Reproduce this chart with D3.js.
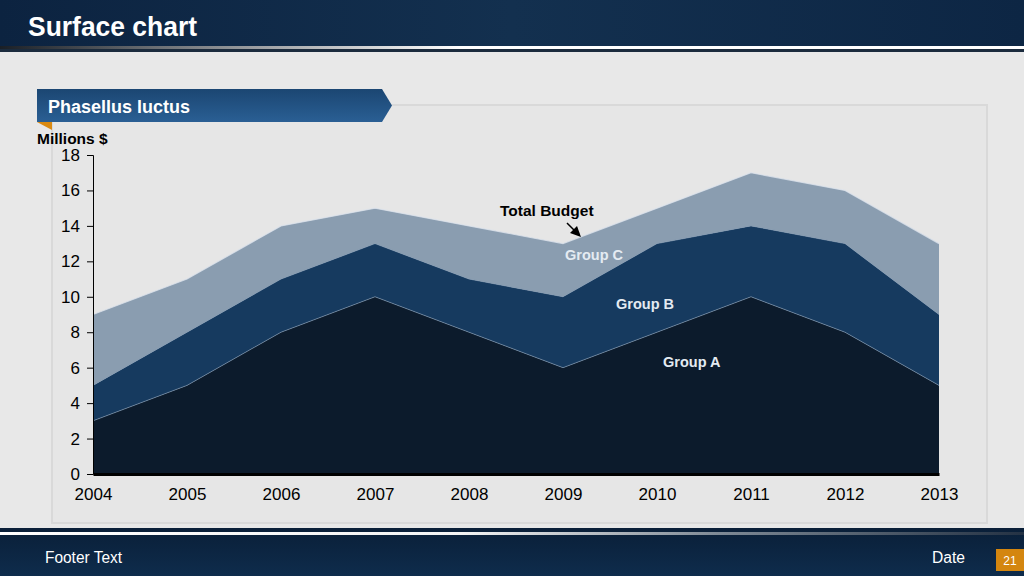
<!DOCTYPE html>
<html><head><meta charset="utf-8">
<script src="https://cdn.jsdelivr.net/npm/d3@7"></script>
<style>html,body{margin:0;padding:0;background:#e8e8e8;}svg{display:block;}</style>
</head><body>
<svg id="c" width="1024" height="576"></svg>
<script>
const years = [2004,2005,2006,2007,2008,2009,2010,2011,2012,2013];
const groupA = [3,5,8,10,8,6,8,10,8,5];
const groupB = [2,3,3,3,3,4,5,4,5,4];
const groupC = [4,3,3,2,3,3,2,3,3,4];
const seriesNames = ["Group A","Group B","Group C"];
const yTicks = [0,2,4,6,8,10,12,14,16,18];
const colors = ["#0c1b2c","#163a5f","#8a9db0"];

const svg = d3.select("#c");
const narrow = "'Liberation Sans Narrow','Arial Narrow','Liberation Sans',sans-serif";
const defs = svg.append("defs");

// header
const hg = defs.append("linearGradient").attr("id","hg").attr("x1",0).attr("x2",1);
hg.append("stop").attr("offset",0).attr("stop-color","#0c2340");
hg.append("stop").attr("offset",0.5).attr("stop-color","#13304f");
hg.append("stop").attr("offset",1).attr("stop-color","#0d2644");
svg.append("rect").attr("x",0).attr("y",0).attr("width",1024).attr("height",47).attr("fill","url(#hg)");
const lg = defs.append("linearGradient").attr("id","lg").attr("x1",0).attr("x2",1);
lg.append("stop").attr("offset",0).attr("stop-color","#1a1f26");
lg.append("stop").attr("offset",0.15).attr("stop-color","#6a6e73");
lg.append("stop").attr("offset",0.45).attr("stop-color","#ffffff");
lg.append("stop").attr("offset",1).attr("stop-color","#ffffff");
svg.append("rect").attr("x",0).attr("y",46).attr("width",1024).attr("height",3).attr("fill","url(#lg)");
svg.append("rect").attr("x",0).attr("y",49).attr("width",1024).attr("height",3).attr("fill","#1b2b3d");
svg.append("text").attr("x",28).attr("y",36).text("Surface chart")
  .attr("font-family",narrow).attr("font-weight","bold").attr("font-size",27).attr("fill","#fff")
  .attr("textLength",169).attr("lengthAdjust","spacingAndGlyphs");

// footer
const fg = defs.append("linearGradient").attr("id","fg").attr("x1",0).attr("x2",0).attr("y1",0).attr("y2",1);
fg.append("stop").attr("offset",0).attr("stop-color","#0a1f38");
fg.append("stop").attr("offset",1).attr("stop-color","#0e2c4c");
svg.append("rect").attr("x",0).attr("y",528).attr("width",1024).attr("height",48).attr("fill","url(#fg)");
const flg = defs.append("linearGradient").attr("id","flg").attr("x1",0).attr("x2",1);
flg.append("stop").attr("offset",0).attr("stop-color","#ffffff");
flg.append("stop").attr("offset",0.45).attr("stop-color","#f4f4f4");
flg.append("stop").attr("offset",0.7).attr("stop-color","#7f8a96");
flg.append("stop").attr("offset",1).attr("stop-color","#243244");
svg.append("rect").attr("x",0).attr("y",532).attr("width",1024).attr("height",3).attr("fill","url(#flg)");
svg.append("text").attr("x",45).attr("y",563).text("Footer Text")
  .attr("font-family",narrow).attr("font-size",16).attr("fill","#fff")
  .attr("textLength",77).attr("lengthAdjust","spacingAndGlyphs");
svg.append("text").attr("x",932).attr("y",563).text("Date")
  .attr("font-family",narrow).attr("font-size",16).attr("fill","#fff")
  .attr("textLength",33).attr("lengthAdjust","spacingAndGlyphs");
svg.append("rect").attr("x",996).attr("y",549).attr("width",28).attr("height",22).attr("fill","#d4860f");
svg.append("text").attr("x",1010).attr("y",565).attr("text-anchor","middle").text("21")
  .attr("font-family",narrow).attr("font-size",12).attr("fill","#fff");

// panel
svg.append("rect").attr("x",52).attr("y",105).attr("width",935).attr("height",418)
  .attr("fill","#e6e6e6").attr("stroke","#d9d9d9").attr("stroke-width",2);

// tab
const tg = defs.append("linearGradient").attr("id","tg").attr("x1",0).attr("x2",0).attr("y1",0).attr("y2",1);
tg.append("stop").attr("offset",0).attr("stop-color","#1b4672");
tg.append("stop").attr("offset",1).attr("stop-color","#2a5f94");
svg.append("path").attr("d","M37,89 L382,89 L392,105.5 L382,122 L37,122 Z").attr("fill","url(#tg)");
svg.append("path").attr("d","M37,122 L52,122 L52,130 Z").attr("fill","#d98a12");
svg.append("text").attr("x",48).attr("y",113).text("Phasellus luctus")
  .attr("font-family","'Liberation Sans',Arial,sans-serif").attr("font-weight","bold").attr("font-size",18).attr("fill","#fff");
svg.append("text").attr("x",37).attr("y",144).text("Millions $")
  .attr("font-family","'Liberation Sans',Arial,sans-serif").attr("font-weight","bold").attr("font-size",15.5).attr("fill","#000");

// chart
const x = d3.scalePoint().domain(years).range([93,939]);
const y = d3.scaleLinear().domain([0,18]).range([474,155]);
const data = years.map((yr,i)=>({year:yr,"Group A":groupA[i],"Group B":groupB[i],"Group C":groupC[i]}));
const stack = d3.stack().keys(seriesNames)(data);
const area = d3.area().x(d=>x(d.data.year)).y0(d=>y(d[0])).y1(d=>y(d[1]));
const line = d3.line().x(d=>x(d.data.year)).y(d=>y(d[1]));
const g = svg.append("g");
stack.forEach((s,i)=>{
  g.append("path").datum(s).attr("d",area).attr("fill",colors[i]);
});
stack.forEach((s,i)=>{
  g.append("path").datum(s).attr("d",line).attr("fill","none")
    .attr("stroke", i===2 ? "#dde4ec" : "#7f97b0").attr("stroke-width",i===2?1.2:0.8).attr("opacity",0.8);
});

// axes
const fontAx = "'Liberation Sans',Arial,sans-serif";
const ya = svg.append("g").attr("transform","translate(93,0)")
  .call(d3.axisLeft(y).tickValues(yTicks).tickSize(6).tickPadding(7));
ya.select(".domain").attr("stroke","#000").attr("stroke-width",1);
ya.selectAll("text").attr("font-family",fontAx).attr("font-size",17).attr("fill","#000");
const xa = svg.append("g").attr("transform","translate(0,474)")
  .call(d3.axisBottom(x).tickSize(0).tickPadding(14).tickFormat(d3.format("d")));
xa.select(".domain").attr("stroke","#000").attr("stroke-width",3);
xa.selectAll("text").attr("font-family",fontAx).attr("font-size",17).attr("fill","#000");

// annotations
const bold = "'Liberation Sans',Arial,sans-serif";
svg.append("text").attr("x",500).attr("y",216).text("Total Budget")
  .attr("font-family",bold).attr("font-weight","bold").attr("font-size",15.5).attr("fill","#000");
svg.append("line").attr("x1",567).attr("y1",223).attr("x2",576).attr("y2",232).attr("stroke","#000").attr("stroke-width",1.5);
svg.append("path").attr("d","M581,237 L570,233 L577,226 Z").attr("fill","#000");
[["Group C",565,260],["Group B",616,309],["Group A",663,367]].forEach(([t,tx,ty])=>{
  svg.append("text").attr("x",tx).attr("y",ty).text(t)
   .attr("font-family",bold).attr("font-weight","bold").attr("font-size",14.5).attr("fill","#e4ebf2");
});
</script>
</body></html>
